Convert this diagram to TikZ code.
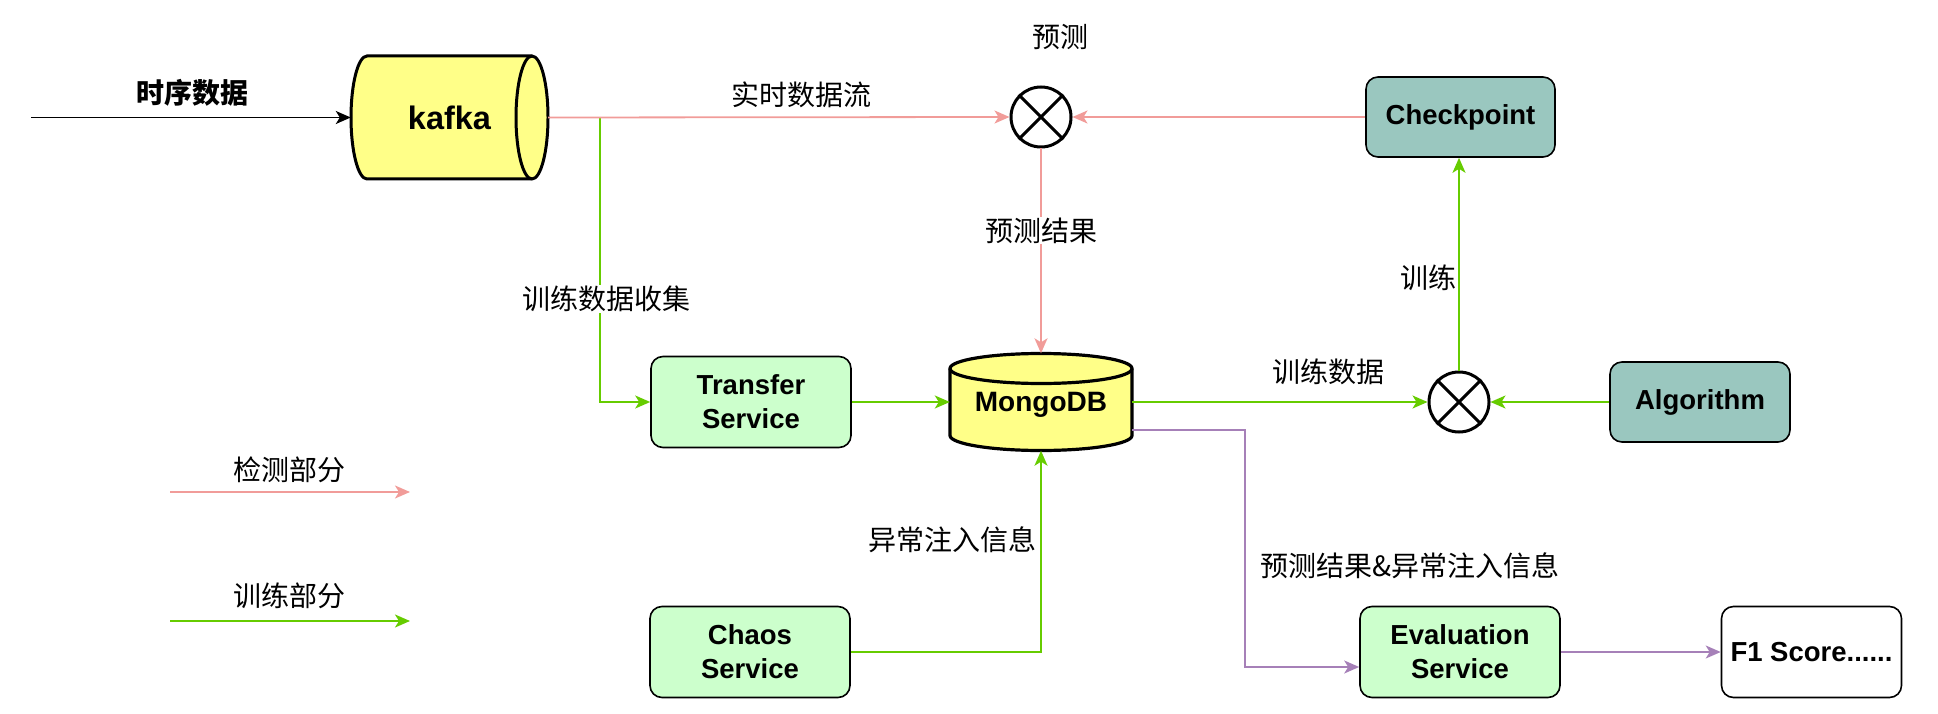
\documentclass[tikz,border=0pt]{standalone}
\usepackage{fontspec}
\setmainfont{Liberation Sans}
\newfontfamily\cjk{Noto Sans CJK SC}
\usetikzlibrary{arrows.meta,calc}
\definecolor{redline}{HTML}{F19C99}
\definecolor{grnline}{HTML}{66CC00}
\definecolor{purline}{HTML}{A680B8}
\definecolor{ylwfill}{HTML}{FFFF88}
\definecolor{svcfill}{HTML}{CCFFCC}
\definecolor{tealfill}{HTML}{9AC7BF}
\tikzset{
  tip/.style={-{Stealth[length=15pt,width=13pt,inset=4pt]}},
  redc/.style={draw=redline,line width=1.8pt,tip},
  grnc/.style={draw=grnline,line width=1.8pt,tip},
  purc/.style={draw=purline,line width=1.8pt,tip},
  blkc/.style={draw=black,line width=1.8pt,tip},
  lbl/.style={font=\cjk\fontsize{28}{33}\selectfont,inner sep=1pt},
  box/.style={draw=black,line width=1.6pt,rounded corners=12pt,minimum width=200pt,minimum height=91pt,align=center,inner sep=0pt,font=\bfseries\fontsize{27.5}{34}\selectfont},
  svc/.style={box,fill=svcfill},
  tealbox/.style={box,fill=tealfill,minimum height=80pt},
  xnode/.style={circle,draw=black,line width=3pt,minimum size=60pt,inner sep=0pt},
  anchorbox/.style={inner sep=0pt,align=center}
}
\begin{document}
\begin{tikzpicture}[x=1pt,y=-1pt]
\useasboundingbox (0,0) rectangle (1938,714);
% kafka cylinder (horizontal)
\path[draw=black,fill=ylwfill,line width=3pt]
  (367,56) -- (532,56) arc[start angle=-90,end angle=90,x radius=16,y radius=61.5]
  -- (367,179) arc[start angle=90,end angle=270,x radius=16,y radius=61.5] -- cycle;
\draw[black,line width=3pt] (532,56) arc[start angle=-90,end angle=-270,x radius=16,y radius=61.5];
\node[anchorbox,minimum width=197pt,minimum height=123pt,font=\bfseries\fontsize{32.5}{38}\selectfont] (kafka) at (449.5,117.5) {kafka};
% MongoDB cylinder (vertical)
\path[draw=black,fill=ylwfill,line width=3.2pt]
  (950,368.5) -- (950,435.5) arc[start angle=180,end angle=0,x radius=91,y radius=15]
  -- (1132,368.5) arc[start angle=0,end angle=-180,x radius=91,y radius=15] -- cycle;
\draw[black,line width=3.2pt] (950,368.5) arc[start angle=180,end angle=0,x radius=91,y radius=15];
\node[anchorbox,minimum width=182pt,minimum height=97pt] (mongo) at (1041,402) {};
\node[anchorbox,font=\bfseries\fontsize{28}{34}\selectfont] (mongotxt) at (1041,405) {MongoDB};
% boxes
\node[svc] (transfer) at (751,402) {Transfer\\Service};
\node[svc] (chaos) at (750,652) {Chaos\\Service};
\node[svc] (eval) at (1460,652) {Evaluation\\Service};
\node[box,fill=white,minimum width=180pt] (f1) at (1811.5,652) {F1 Score......};
\node[tealbox,minimum width=189pt] (ckpt) at (1460.5,117) {Checkpoint};
\node[tealbox,minimum width=180pt] (algo) at (1700,402) {Algorithm};
% combiners
\node[xnode] (p1) at (1041,117) {};
\draw[black,line width=3pt] (p1.north west) -- (p1.south east) (p1.north east) -- (p1.south west);
\node[xnode] (p2) at (1459,402) {};
\draw[black,line width=3pt] (p2.north west) -- (p2.south east) (p2.north east) -- (p2.south west);
% input
\coordinate (in) at (31,117.5);
\draw[blkc] (in) -- (kafka.west);
\node[lbl,font=\cjk\bfseries\fontsize{28}{33}\selectfont] (tsd) at (192,93) {时序数据};
% connectors
\coordinate (gbend) at (600,117.5);
\draw[grnc] (kafka.east) -- (gbend) |- (transfer.west);
\draw[redc] (kafka.east) -- (p1.west);
\draw[redc] (ckpt.west) -- (p1.east);
\draw[redc] (p1.south) -- (mongo.north) node[lbl,pos=0.4,fill=white,text=black] {预测结果};
\node[lbl,fill=white] (l1) at (606,299) {训练数据收集};
\draw[grnc] (transfer.east) -- (mongo.west);
\draw[grnc] (mongo.east) -- (p2.west);
\draw[grnc] (algo.west) -- (p2.east);
\draw[grnc] (p2.north) -- (p2.north |- ckpt.south);
\draw[grnc] (chaos.east) -| (mongo.south);
\coordinate (mo) at ($(mongo.east)+(0,28)$);
\coordinate (ei) at ($(eval.west)+(0,15)$);
\draw[purc] (mo) -- (1245,430) -- (1245,667) -- (ei);
\draw[purc] (eval.east) -- (f1.west);
% labels
\node[lbl] (l2) at (801,95) {实时数据流};
\node[lbl] (l3) at (1060,37) {预测};
\node[lbl] (l4) at (1328,372) {训练数据};
\node[lbl,anchor=east] (l5) at (1458,278) {训练};
\node[lbl,anchor=east] (l6) at (1038,540) {异常注入信息};
\node[lbl] (l7) at (1410,566) {预测结果\&异常注入信息};
% legend
\coordinate (r1) at (170,492);
\coordinate (r2) at (410,492);
\draw[redc] (r1) -- (r2);
\node[lbl] (lg1) at (289,470) {检测部分};
\coordinate (g1) at (170,621);
\coordinate (g2) at (410,621);
\draw[grnc] (g1) -- (g2);
\node[lbl] (lg2) at (289,596) {训练部分};
\end{tikzpicture}
\end{document}
